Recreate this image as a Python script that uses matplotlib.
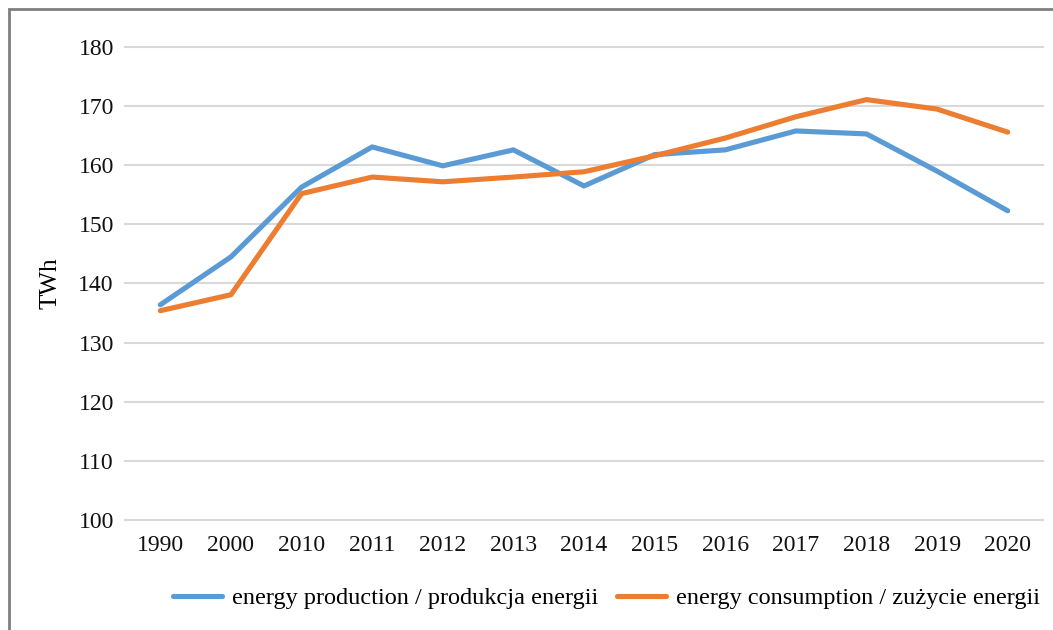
#!/usr/bin/env python3
import matplotlib
matplotlib.use('Agg')
import matplotlib.pyplot as plt
from matplotlib.patches import Rectangle

years = ['1990', '2000', '2010', '2011', '2012', '2013', '2014',
         '2015', '2016', '2017', '2018', '2019', '2020']

production = [136.4, 144.5, 156.3, 163.1, 159.9, 162.6, 156.5,
              161.8, 162.6, 165.8, 165.3, 159.0, 152.3]
consumption = [135.4, 138.1, 155.2, 158.0, 157.2, 158.0, 158.9,
               161.6, 164.6, 168.2, 171.1, 169.5, 165.6]

yticks = [100, 110, 120, 130, 140, 150, 160, 170, 180]

plt.rcParams['font.family'] = ['Liberation Serif', 'DejaVu Serif']

fig = plt.figure(figsize=(10.53, 6.3), dpi=100)
ax = fig.add_axes([125/1053, 1 - 520/630, (1043 - 125)/1053, (520 - 47)/630])

x = list(range(len(years)))
ax.plot(x, production, color='#5B9BD5', lw=3.7, solid_capstyle='round',
        solid_joinstyle='round', label='energy production / produkcja energii')
ax.plot(x, consumption, color='#ED7D31', lw=3.7, solid_capstyle='round',
        solid_joinstyle='round', label='energy consumption / zużycie energii')

ax.set_xlim(-0.5, len(years) - 0.5)
ax.set_ylim(100, 180)
ax.set_xticks(x)
ax.set_xticklabels(years)
ax.set_yticks(yticks)
ax.tick_params(length=0, labelsize=17, colors='#111111')
ax.tick_params(axis='x', pad=11)
ax.tick_params(axis='y', pad=8)
ax.set_ylabel('TWh', fontsize=18, labelpad=12)

ax.yaxis.grid(True, color='#d9d9d9', lw=1.5)
for gl in ax.get_ygridlines():
    gl.set_clip_on(False)
ax.set_axisbelow(True)
for s in ax.spines.values():
    s.set_visible(False)

fig.legend(loc='center', bbox_to_anchor=(0.576, 1 - 598/630), ncol=2,
           frameon=False, fontsize=17.5, handlelength=2.0, columnspacing=0.8,
           handletextpad=0.4)

# outer frame, cropped at right and bottom
fig.patches.append(Rectangle((9/1053, -0.1), 1.2, 1 - 9/630 + 0.1,
                             transform=fig.transFigure, fill=False,
                             edgecolor='#7f7f7f', lw=2))

fig.savefig('out.png', dpi=100)
